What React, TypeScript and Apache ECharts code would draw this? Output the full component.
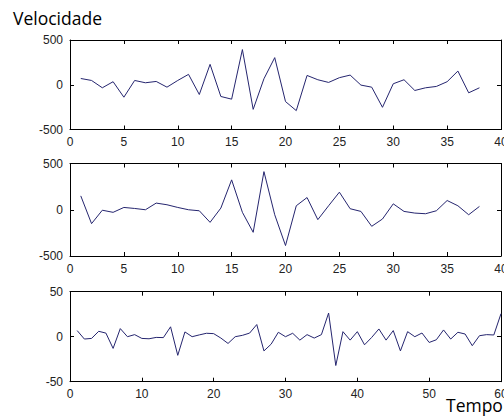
import React, { useEffect, useRef } from "react";
import * as echarts from "echarts";

// Velocity samples for the three traces (sample index starts at 1)
const velocityA = [70, 48, -34, 34, -139, 48, 22, 37, -27, 48, 116, -109, 228, -131, -161, 393, -275, 67, 303, -188, -289, 104, 56, 26, 79, 108, -4, -27, -252, 11, 56, -64, -34, -19, 34, 153, -90, -34];
const velocityB = [150, -150, -5, -28, 25, 14, 0, 72, 54, 25, 0, -11, -136, 18, 323, -28, -244, 412, -54, -387, 43, 132, -107, 43, 190, 11, -18, -179, -100, 64, -18, -36, -43, -11, 100, 43, -54, 36];
const velocityC = [6.8, -2.6, -1.9, 6, 4, -13, 9, 0, 2.3, -1.9, -2.3, -0.8, -1, 11, -20.7, 5.3, 0, 2, 3.8, 3.4, -1.5, -7.5, 0, 1.5, 4, 13.5, -15.8, -8.3, 4.9, 0, 3.8, -3.8, 2.3, -1.5, 2.3, 26.3, -32, 5.6, -3.8, 5.6, -9, -0.8, 8.6, -3.8, 6.8, -15.8, 5.6, 0, 4.1, -6.4, -3.4, 7.5, -2.6, 4.9, 3, -10, 1.1, 2.3, 1.9, 25.6];

// Axis ranges per panel: [xMax, xStep, yLimit]
const panelAxes = [
  [40, 5, 500],
  [40, 5, 500],
  [60, 10, 50],
];

const titleText = "Velocidade";
const xAxisTitle = "Tempo";

const grids = [
  { left: 70, top: 40, width: 431, height: 89.5, outerBoundsMode: "none" },
  { left: 70, top: 163.5, width: 431, height: 92.5, outerBoundsMode: "none" },
  { left: 70, top: 291.7, width: 431, height: 90, outerBoundsMode: "none" },
];

const LINE = "#25256f";
const LABEL_FONT = "Liberation Sans";

export default function App() {
  const ref = useRef<HTMLDivElement>(null);

  useEffect(() => {
    document.body.style.margin = "0";
    const chart = echarts.init(ref.current!, null, { renderer: "svg" });

    const frame = { show: true, onZero: false, lineStyle: { color: "#000", width: 1 } };
    const tick = { show: true, inside: true, length: 4, lineStyle: { color: "#000", width: 1 } };
    const label = {
      color: "#222", fontSize: 12, fontFamily: LABEL_FONT,
      showMinLabel: true, showMaxLabel: true,
      hideOverlap: false,
    };

    const xAxes: any[] = [];
    const yAxes: any[] = [];
    panelAxes.forEach(([xMax, xStep, yLim], i) => {
      xAxes.push({
        type: "value", gridIndex: i, position: "bottom", min: 0, max: xMax, interval: xStep,
        axisLine: frame, axisTick: tick, splitLine: { show: false },
        axisLabel: {
          ...label, margin: 7.5, lineHeight: 10,
          alignMinLabel: "center", alignMaxLabel: "center",
        },
      });
      xAxes.push({
        type: "value", gridIndex: i, position: "top", min: 0, max: xMax, interval: xStep,
        axisLine: frame, axisTick: tick, splitLine: { show: false }, axisLabel: { show: false },
      });
      yAxes.push({
        type: "value", gridIndex: i, position: "left", min: -yLim, max: yLim, interval: yLim,
        axisLine: frame, axisTick: tick, splitLine: { show: false },
        axisLabel: { ...label, margin: 7 },
      });
      yAxes.push({
        type: "value", gridIndex: i, position: "right", min: -yLim, max: yLim, interval: yLim,
        axisLine: frame, axisTick: tick, splitLine: { show: false }, axisLabel: { show: false },
      });
    });

    const traces = [velocityA, velocityB, velocityC];
    const series = traces.map((values, i) => ({
      type: "line",
      xAxisIndex: i * 2,
      yAxisIndex: i * 2,
      data: values.map((v, k) => [k + 1, v]),
      symbol: "none",
      lineStyle: { color: LINE, width: 1 },
      silent: true,
    }));

    chart.setOption({
      animation: false,
      backgroundColor: "#fff",
      grid: grids,
      xAxis: xAxes,
      yAxis: yAxes,
      series,
      graphic: [
        {
          type: "text", left: 13, top: 9,
          style: { text: titleText, font: "17.5px 'Open Sans'", fill: "#000" },
        },
        {
          type: "text", left: 446, top: 395.5,
          style: { text: xAxisTitle, font: "17.5px 'Open Sans'", lineHeight: 10, fill: "#000" },
        },
      ],
    });

    return () => chart.dispose();
  }, []);

  return (
    <div
      ref={ref}
      style={{ position: "absolute", left: 0, top: 0, width: 504, height: 416 }}
    />
  );
}
